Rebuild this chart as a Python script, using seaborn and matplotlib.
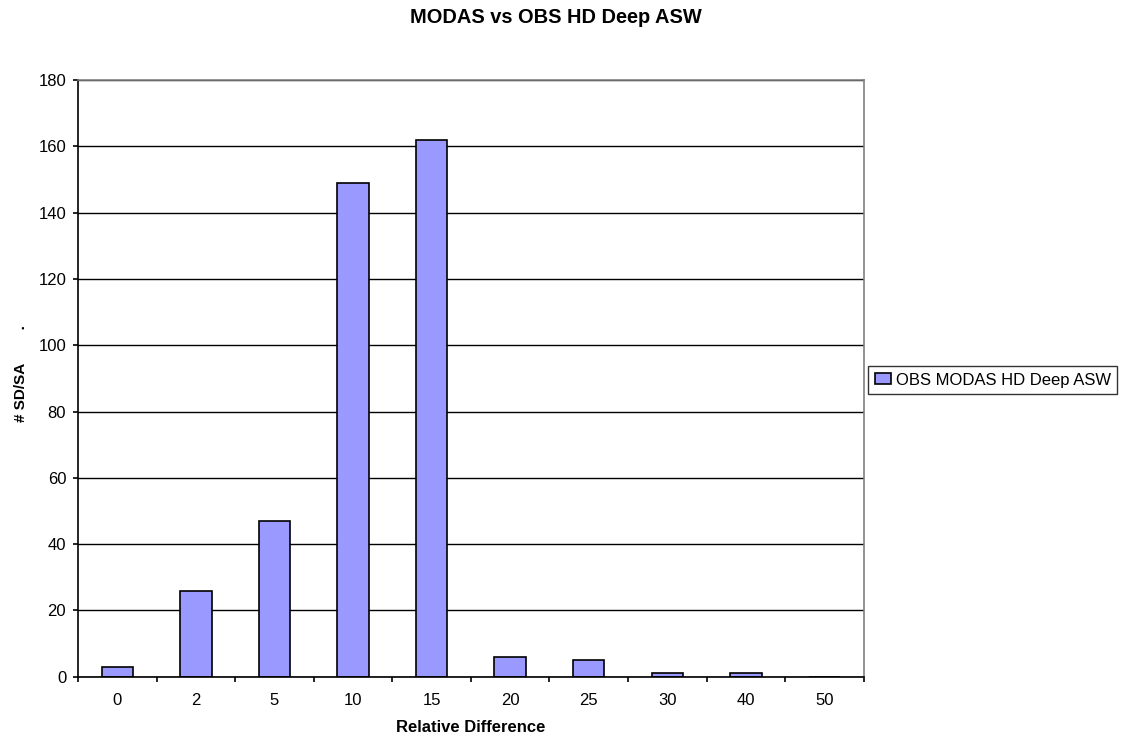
import matplotlib
matplotlib.use("Agg")
import matplotlib.pyplot as plt
import matplotlib.patches as mpatches
from matplotlib.legend_handler import HandlerPatch
import seaborn as sns
import pandas as pd

# data
categories = ["0", "2", "5", "10", "15", "20", "25", "30", "40", "50"]
counts = [3, 26, 47, 149, 162, 6, 5, 1, 1, 0]
series_name = "OBS MODAS HD Deep ASW"

sns.set_style("white")
plt.rcParams['font.family'] = ['Liberation Sans', 'DejaVu Sans']
plt.rcParams['text.color'] = 'black'
plt.rcParams['axes.labelcolor'] = 'black'
plt.rcParams['xtick.color'] = 'black'
plt.rcParams['ytick.color'] = 'black'

df = pd.DataFrame({"diff": categories, "count": counts})

fig = plt.figure(figsize=(11.32, 7.47), dpi=100)
ax = fig.add_axes([0.069, 0.094, 0.694, 0.799])

sns.barplot(data=df, x="diff", y="count", color="#9999FF", edgecolor="black",
            linewidth=1.2, width=0.4, saturation=1, label=series_name, ax=ax)

ax.set_ylim(0, 180)
ax.set_yticks(range(0, 181, 20))
ax.set_xlim(-0.5, len(categories) - 0.5)
ax.yaxis.grid(True, color="black", linewidth=1)
ax.set_axisbelow(True)

# excel style frame
for side in ["top", "right"]:
    ax.spines[side].set_color("#808080")
    ax.spines[side].set_linewidth(1.2)
for side in ["left", "bottom"]:
    ax.spines[side].set_color("black")
    ax.spines[side].set_linewidth(1.2)

# x ticks sit between the categories, labels in the middle
ax.set_xticks([i - 0.5 for i in range(len(categories) + 1)], minor=False)
ax.set_xticklabels([])
ax.set_xticks(range(len(categories)), minor=True)
ax.set_xticklabels(categories, minor=True)
ax.tick_params(axis="x", which="major", direction="out", length=3.6, width=1.2, bottom=True)
ax.tick_params(axis="x", which="minor", length=0, labelsize=12, pad=12)
ax.tick_params(axis="y", direction="out", length=3.6, width=1.2, left=True, labelsize=12, pad=5)

ax.set_xlabel("Relative Difference", fontsize=12, fontweight="bold", labelpad=8)
ax.set_ylabel("# SD/SA        .", fontsize=11, fontweight="bold")
ax.yaxis.set_label_coords(-0.064, 0.508)
fig.text(0.491, 0.977, "MODAS vs OBS HD Deep ASW", fontsize=14.4, fontweight="bold",
         ha="center", va="center")


# small square marker pushed to the right side of the handle box
def square_patch(legend, orig_handle, xdescent, ydescent, width, height, fontsize):
    return mpatches.Rectangle((-xdescent + width - height, -ydescent), height, height)


leg = ax.legend(loc="center left", bbox_to_anchor=(1.006, 0.497), frameon=True,
                fancybox=False, edgecolor="black", fontsize=12, handlelength=1.0,
                handleheight=0.6, handletextpad=0.25, borderpad=0.38, borderaxespad=0,
                handler_map={mpatches.Rectangle: HandlerPatch(patch_func=square_patch)})
leg.get_frame().set_linewidth(1)

fig.savefig("out.png", dpi=100)
